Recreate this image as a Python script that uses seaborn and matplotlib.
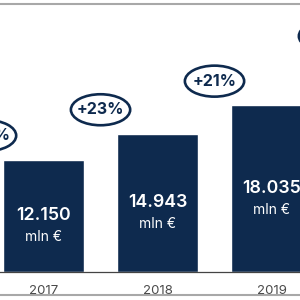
import matplotlib
matplotlib.use("Agg")
import matplotlib.pyplot as plt
from matplotlib.patches import Ellipse
from matplotlib.lines import Line2D
import seaborn as sns
import pandas as pd

# revenue per year (2016 and 2020 fall outside the crop)
years = ["2016", "2017", "2018", "2019", "2020"]
revenue = [10100, 12150, 14943, 18035, 22900]
growth = ["+20%", "+23%", "+21%", "+25%"]  # growth into years[1:]

navy = "#0e2a4e"
df = pd.DataFrame({"year": years, "revenue": revenue})

sns.set_style("white")
plt.rcParams["font.family"] = ["Inter", "DejaVu Sans"]

fig = plt.figure(figsize=(3, 3), dpi=100)
ax = fig.add_axes([0, 28 / 300, 1, 272 / 300])

sns.barplot(data=df, x="year", y="revenue", color=navy, saturation=1,
            width=0.71, ax=ax)

ymax = 29400
px = ymax / 272  # data units per pixel

# value labels in the middle of each bar
for i, v in enumerate(revenue):
    label = f"{v:,}".replace(",", ".")
    ax.annotate(label, (i, v / 2), ha="center", va="center", color="white",
                fontsize=12.8, fontweight="semibold")
    ax.annotate("mln €", (i, v / 2), xytext=(0, -21), textcoords="offset pixels",
                ha="center", va="center", color="white", fontsize=10)

# growth bubbles between bars
for i, g in enumerate(growth):
    x = i + 0.5
    y = revenue[i + 1] + 24 * px
    ax.add_patch(Ellipse((x, y), width=0.52, height=31 * px, fill=False,
                         ec=navy, lw=1.9, clip_on=False))
    ax.text(x, y, g, ha="center", va="center", color=navy, fontsize=11.5,
            fontweight="bold")

sns.despine(ax=ax, left=True, top=True, right=True)
ax.spines["bottom"].set_color("#444444")
ax.spines["bottom"].set_linewidth(0.9)
ax.set_yticks([])
ax.set_xlabel("")
ax.set_ylabel("")
ax.set_xticks(range(len(years)))
ax.set_xticklabels(years)
ax.set_xticks([i + 0.5 for i in range(len(years) - 1)], minor=True)
ax.tick_params(axis="x", which="major", length=0, pad=9, labelsize=9.5,
               labelcolor="#4a4a4a")
ax.tick_params(axis="x", which="minor", length=3, width=1, color="#333333",
               direction="out")

# crop the view to 2017-2019 like the original
ax.set_xlim(0.618, 3.25)
ax.set_ylim(0, ymax)

# thin grey frame lines top and bottom
fig.add_artist(Line2D([0, 1], [1 - 4 / 300, 1 - 4 / 300], color="#a8a8a8", lw=1.5))
fig.add_artist(Line2D([0, 1], [5 / 300, 5 / 300], color="#a8a8a8", lw=1.5))

fig.savefig("out.png", dpi=100)
